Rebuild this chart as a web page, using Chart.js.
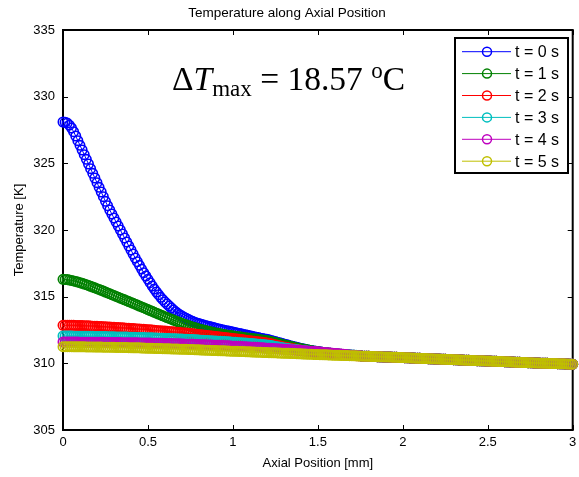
<!DOCTYPE html>
<html>
<head>
<meta charset="utf-8">
<script src="https://cdn.jsdelivr.net/npm/chart.js@4.4.1/dist/chart.umd.min.js"></script>
<style>
  html, body { margin: 0; padding: 0; background: #fff; }
  #wrap { width: 579px; height: 477px; }
</style>
</head>
<body>
<div id="wrap"><canvas id="tempChart" width="579" height="477"></canvas></div>
<script>
/* Temperature along axial position, six time snapshots (MATLAB-style figure) */

// axial position [mm], one row per 0.1 mm
const axialPos = [
  0, 0.0125, 0.025, 0.0375, 0.05, 0.0625, 0.075, 0.0875,
  0.1, 0.1125, 0.125, 0.1375, 0.15, 0.1625, 0.175, 0.1875,
  0.2, 0.2125, 0.225, 0.2375, 0.25, 0.2625, 0.275, 0.2875,
  0.3, 0.3125, 0.325, 0.3375, 0.35, 0.3625, 0.375, 0.3875,
  0.4, 0.4125, 0.425, 0.4375, 0.45, 0.4625, 0.475, 0.4875,
  0.5, 0.5125, 0.525, 0.5375, 0.55, 0.5625, 0.575, 0.5875,
  0.6, 0.6125, 0.625, 0.6375, 0.65, 0.6625, 0.675, 0.6875,
  0.7, 0.7125, 0.725, 0.7375, 0.75, 0.7625, 0.775, 0.7875,
  0.8, 0.8125, 0.825, 0.8375, 0.85, 0.8625, 0.875, 0.8875,
  0.9, 0.9125, 0.925, 0.9375, 0.95, 0.9625, 0.975, 0.9875,
  1, 1.0125, 1.025, 1.0375, 1.05, 1.0625, 1.075, 1.0875,
  1.1, 1.1125, 1.125, 1.1375, 1.15, 1.1625, 1.175, 1.1875,
  1.2, 1.2125, 1.225, 1.2375, 1.25, 1.2625, 1.275, 1.2875,
  1.3, 1.3125, 1.325, 1.3375, 1.35, 1.3625, 1.375, 1.3875,
  1.4, 1.4125, 1.425, 1.4375, 1.45, 1.4625, 1.475, 1.4875,
  1.5, 1.5125, 1.525, 1.5375, 1.55, 1.5625, 1.575, 1.5875,
  1.6, 1.6125, 1.625, 1.6375, 1.65, 1.6625, 1.675, 1.6875,
  1.7, 1.7125, 1.725, 1.7375, 1.75, 1.7625, 1.775, 1.7875,
  1.8, 1.8125, 1.825, 1.8375, 1.85, 1.8625, 1.875, 1.8875,
  1.9, 1.9125, 1.925, 1.9375, 1.95, 1.9625, 1.975, 1.9875,
  2, 2.0125, 2.025, 2.0375, 2.05, 2.0625, 2.075, 2.0875,
  2.1, 2.1125, 2.125, 2.1375, 2.15, 2.1625, 2.175, 2.1875,
  2.2, 2.2125, 2.225, 2.2375, 2.25, 2.2625, 2.275, 2.2875,
  2.3, 2.3125, 2.325, 2.3375, 2.35, 2.3625, 2.375, 2.3875,
  2.4, 2.4125, 2.425, 2.4375, 2.45, 2.4625, 2.475, 2.4875,
  2.5, 2.5125, 2.525, 2.5375, 2.55, 2.5625, 2.575, 2.5875,
  2.6, 2.6125, 2.625, 2.6375, 2.65, 2.6625, 2.675, 2.6875,
  2.7, 2.7125, 2.725, 2.7375, 2.75, 2.7625, 2.775, 2.7875,
  2.8, 2.8125, 2.825, 2.8375, 2.85, 2.8625, 2.875, 2.8875,
  2.9, 2.9125, 2.925, 2.9375, 2.95, 2.9625, 2.975, 2.9875,
  3
];

// temperatures [K] from 0 to 1.75 mm, one array per time snapshot
const temp0s = [
  328.10, 328.08, 328.02, 327.86, 327.65, 327.37, 327.05, 326.70,
  326.35, 326.00, 325.65, 325.30, 324.95, 324.60, 324.25, 323.90,
  323.55, 323.20, 322.85, 322.50, 322.15, 321.82, 321.50, 321.20,
  320.90, 320.60, 320.30, 320.00, 319.70, 319.40, 319.10, 318.80,
  318.50, 318.20, 317.90, 317.62, 317.35, 317.07, 316.80, 316.55,
  316.30, 316.05, 315.80, 315.57, 315.35, 315.15, 314.95, 314.77,
  314.60, 314.45, 314.30, 314.15, 314.00, 313.87, 313.75, 313.65,
  313.55, 313.46, 313.38, 313.30, 313.22, 313.15, 313.09, 313.03,
  312.98, 312.93, 312.89, 312.84, 312.80, 312.76, 312.72, 312.68,
  312.64, 312.60, 312.56, 312.52, 312.49, 312.45, 312.42, 312.38,
  312.35, 312.31, 312.28, 312.24, 312.21, 312.17, 312.14, 312.10,
  312.07, 312.03, 312.00, 311.96, 311.93, 311.89, 311.86, 311.83,
  311.80, 311.76, 311.72, 311.67, 311.63, 311.59, 311.54, 311.50,
  311.45, 311.41, 311.37, 311.32, 311.28, 311.24, 311.20, 311.16,
  311.12, 311.09, 311.05, 311.02, 310.99, 310.96, 310.93, 310.91,
  310.88, 310.86, 310.84, 310.81, 310.79, 310.77, 310.75, 310.74,
  310.72, 310.70, 310.69, 310.67, 310.66, 310.65, 310.63, 310.62,
  310.61, 310.60, 310.59, 310.58, 310.57
];
const temp1s = [
  316.30, 316.29, 316.28, 316.25, 316.22, 316.18, 316.14, 316.10,
  316.05, 316.00, 315.95, 315.90, 315.84, 315.78, 315.72, 315.66,
  315.60, 315.54, 315.48, 315.42, 315.35, 315.28, 315.22, 315.15,
  315.09, 315.02, 314.96, 314.89, 314.83, 314.76, 314.70, 314.63,
  314.57, 314.50, 314.44, 314.37, 314.30, 314.23, 314.17, 314.10,
  314.03, 313.96, 313.90, 313.83, 313.76, 313.70, 313.63, 313.56,
  313.50, 313.43, 313.37, 313.31, 313.25, 313.18, 313.12, 313.06,
  313.00, 312.94, 312.89, 312.83, 312.78, 312.73, 312.68, 312.63,
  312.58, 312.54, 312.50, 312.46, 312.42, 312.38, 312.35, 312.31,
  312.28, 312.25, 312.22, 312.19, 312.16, 312.13, 312.11, 312.08,
  312.06, 312.03, 312.01, 311.99, 311.97, 311.94, 311.92, 311.90,
  311.88, 311.86, 311.84, 311.82, 311.80, 311.77, 311.75, 311.73,
  311.71, 311.67, 311.64, 311.60, 311.56, 311.52, 311.48, 311.44,
  311.40, 311.36, 311.33, 311.29, 311.25, 311.21, 311.17, 311.14,
  311.10, 311.07, 311.04, 311.01, 310.98, 310.95, 310.92, 310.90,
  310.87, 310.85, 310.83, 310.81, 310.79, 310.77, 310.75, 310.74,
  310.72, 310.71, 310.69, 310.68, 310.66, 310.65, 310.64, 310.62,
  310.61, 310.60, 310.59, 310.59, 310.58
];
const temp2s = [
  312.85, 312.85, 312.85, 312.85, 312.85, 312.85, 312.84, 312.84,
  312.83, 312.83, 312.82, 312.82, 312.81, 312.80, 312.79, 312.79,
  312.78, 312.77, 312.76, 312.75, 312.74, 312.73, 312.72, 312.71,
  312.70, 312.69, 312.68, 312.67, 312.66, 312.65, 312.64, 312.63,
  312.62, 312.61, 312.60, 312.58, 312.57, 312.56, 312.55, 312.53,
  312.52, 312.51, 312.50, 312.48, 312.47, 312.45, 312.44, 312.43,
  312.42, 312.40, 312.39, 312.37, 312.36, 312.34, 312.33, 312.31,
  312.30, 312.28, 312.27, 312.25, 312.24, 312.22, 312.20, 312.18,
  312.17, 312.15, 312.13, 312.11, 312.09, 312.07, 312.05, 312.03,
  312.02, 312.00, 311.98, 311.96, 311.94, 311.92, 311.90, 311.88,
  311.86, 311.84, 311.82, 311.80, 311.78, 311.76, 311.74, 311.72,
  311.70, 311.68, 311.66, 311.64, 311.62, 311.60, 311.58, 311.56,
  311.53, 311.50, 311.47, 311.43, 311.39, 311.35, 311.31, 311.27,
  311.23, 311.20, 311.16, 311.13, 311.10, 311.07, 311.04, 311.01,
  310.98, 310.95, 310.93, 310.90, 310.88, 310.86, 310.84, 310.82,
  310.80, 310.78, 310.76, 310.74, 310.72, 310.71, 310.70, 310.68,
  310.67, 310.66, 310.65, 310.64, 310.63, 310.62, 310.61, 310.60,
  310.59, 310.58, 310.57, 310.57, 310.56
];
const temp3s = [
  312.05, 312.05, 312.05, 312.05, 312.05, 312.04, 312.04, 312.04,
  312.04, 312.04, 312.04, 312.03, 312.03, 312.03, 312.03, 312.02,
  312.02, 312.02, 312.02, 312.01, 312.01, 312.00, 312.00, 311.99,
  311.99, 311.98, 311.98, 311.98, 311.98, 311.97, 311.97, 311.96,
  311.96, 311.95, 311.95, 311.94, 311.94, 311.93, 311.93, 311.92,
  311.92, 311.91, 311.91, 311.90, 311.90, 311.89, 311.89, 311.88,
  311.87, 311.86, 311.86, 311.85, 311.85, 311.84, 311.83, 311.82,
  311.82, 311.81, 311.80, 311.79, 311.79, 311.78, 311.77, 311.76,
  311.75, 311.74, 311.73, 311.72, 311.71, 311.70, 311.69, 311.68,
  311.67, 311.66, 311.65, 311.64, 311.63, 311.62, 311.61, 311.60,
  311.59, 311.58, 311.57, 311.55, 311.54, 311.53, 311.52, 311.50,
  311.49, 311.48, 311.47, 311.45, 311.44, 311.43, 311.42, 311.40,
  311.38, 311.35, 311.33, 311.30, 311.27, 311.24, 311.21, 311.18,
  311.15, 311.13, 311.11, 311.08, 311.06, 311.04, 311.02, 311.00,
  310.98, 310.96, 310.94, 310.92, 310.90, 310.88, 310.87, 310.85,
  310.84, 310.82, 310.81, 310.79, 310.78, 310.76, 310.75, 310.73,
  310.72, 310.71, 310.70, 310.68, 310.67, 310.66, 310.65, 310.63,
  310.62, 310.61, 310.60, 310.58, 310.57
];
const temp4s = [
  311.60, 311.60, 311.60, 311.60, 311.60, 311.60, 311.60, 311.60,
  311.59, 311.59, 311.59, 311.59, 311.59, 311.59, 311.58, 311.58,
  311.58, 311.58, 311.58, 311.58, 311.57, 311.57, 311.57, 311.57,
  311.56, 311.56, 311.56, 311.56, 311.55, 311.55, 311.55, 311.55,
  311.54, 311.54, 311.54, 311.54, 311.53, 311.53, 311.53, 311.53,
  311.52, 311.52, 311.51, 311.51, 311.51, 311.51, 311.50, 311.50,
  311.49, 311.49, 311.48, 311.48, 311.47, 311.47, 311.46, 311.46,
  311.45, 311.45, 311.44, 311.44, 311.43, 311.43, 311.42, 311.42,
  311.41, 311.40, 311.39, 311.39, 311.38, 311.38, 311.37, 311.36,
  311.35, 311.35, 311.34, 311.33, 311.32, 311.32, 311.31, 311.30,
  311.29, 311.28, 311.27, 311.27, 311.26, 311.25, 311.24, 311.23,
  311.22, 311.21, 311.20, 311.19, 311.18, 311.17, 311.16, 311.15,
  311.14, 311.13, 311.12, 311.11, 311.10, 311.09, 311.08, 311.07,
  311.06, 311.05, 311.03, 311.02, 311.01, 311.00, 310.99, 310.98,
  310.96, 310.95, 310.94, 310.93, 310.91, 310.90, 310.89, 310.88,
  310.86, 310.85, 310.83, 310.82, 310.80, 310.79, 310.77, 310.76,
  310.74, 310.73, 310.71, 310.70, 310.68, 310.67, 310.65, 310.63,
  310.61, 310.60, 310.58, 310.57, 310.56
];
const temp5s = [
  311.25, 311.25, 311.25, 311.25, 311.25, 311.24, 311.24, 311.24,
  311.24, 311.24, 311.24, 311.23, 311.23, 311.23, 311.23, 311.22,
  311.22, 311.22, 311.22, 311.21, 311.21, 311.21, 311.21, 311.20,
  311.20, 311.19, 311.19, 311.19, 311.19, 311.18, 311.18, 311.17,
  311.17, 311.16, 311.16, 311.16, 311.16, 311.15, 311.15, 311.14,
  311.14, 311.13, 311.13, 311.12, 311.12, 311.11, 311.11, 311.10,
  311.10, 311.09, 311.09, 311.08, 311.08, 311.07, 311.07, 311.06,
  311.06, 311.05, 311.05, 311.04, 311.04, 311.03, 311.02, 311.01,
  311.01, 311.00, 311.00, 310.99, 310.99, 310.98, 310.97, 310.96,
  310.96, 310.95, 310.95, 310.94, 310.94, 310.93, 310.92, 310.91,
  310.91, 310.90, 310.90, 310.89, 310.89, 310.88, 310.87, 310.86,
  310.86, 310.85, 310.85, 310.84, 310.84, 310.83, 310.82, 310.81,
  310.81, 310.80, 310.80, 310.79, 310.79, 310.78, 310.77, 310.76,
  310.76, 310.75, 310.75, 310.74, 310.74, 310.73, 310.72, 310.71,
  310.71, 310.70, 310.70, 310.69, 310.69, 310.68, 310.67, 310.66,
  310.66, 310.65, 310.65, 310.64, 310.64, 310.63, 310.62, 310.61,
  310.61, 310.60, 310.60, 310.59, 310.59, 310.58, 310.58, 310.57,
  310.57, 310.56, 310.56, 310.55, 310.55
];
// past 1.75 mm every snapshot sits on the same curve
const tempTail = [
                          310.54, 310.54, 310.53,
  310.53, 310.52, 310.51, 310.51, 310.50, 310.49, 310.49, 310.48,
  310.48, 310.47, 310.47, 310.46, 310.45, 310.45, 310.44, 310.43,
  310.43, 310.42, 310.42, 310.41, 310.40, 310.40, 310.39, 310.38,
  310.38, 310.37, 310.36, 310.36, 310.35, 310.34, 310.34, 310.33,
  310.33, 310.32, 310.31, 310.30, 310.30, 310.29, 310.29, 310.28,
  310.27, 310.27, 310.26, 310.25, 310.25, 310.24, 310.24, 310.23,
  310.22, 310.22, 310.21, 310.20, 310.20, 310.19, 310.19, 310.18,
  310.17, 310.17, 310.16, 310.15, 310.15, 310.14, 310.13, 310.13,
  310.12, 310.11, 310.11, 310.10, 310.10, 310.09, 310.08, 310.08,
  310.07, 310.06, 310.06, 310.05, 310.05, 310.04, 310.03, 310.02,
  310.02, 310.01, 310.01, 310.00, 310.00, 309.99, 309.99, 309.98,
  309.98, 309.97, 309.97, 309.96, 309.96, 309.95, 309.95, 309.94,
  309.94
];

const timeLabels = ['t = 0 s', 't = 1 s', 't = 2 s', 't = 3 s', 't = 4 s', 't = 5 s'];
const seriesHeads = [temp0s, temp1s, temp2s, temp3s, temp4s, temp5s];
const xTicks = [0, 0.5, 1, 1.5, 2, 2.5, 3];
const yTicks = [305, 310, 315, 320, 325, 330, 335];

/* MATLAB default line colours */
const lineColors = ['#0000ff', '#008000', '#ff0000', '#00bfbf', '#bf00bf', '#bfbf00'];

const SANS = "'Liberation Sans', Arial, Helvetica, sans-serif";
const SERIF = "'Liberation Serif', 'Times New Roman', serif";

const datasets = seriesHeads.map((head, i) => ({
  label: timeLabels[i],
  data: head.concat(tempTail),
  borderColor: lineColors[i],
  borderWidth: 1,
  pointStyle: 'circle',
  pointRadius: 4.7,
  pointBorderWidth: 1.6,
  pointBorderColor: lineColors[i],
  pointBackgroundColor: 'rgba(0,0,0,0)',
  tension: 0,
  clip: false,
  order: seriesHeads.length - i   // later snapshot on top, like MATLAB
}));

/* box, inward ticks, title, ΔT annotation and legend */
const matlabAxes = {
  id: 'matlabAxes',
  beforeDatasetsDraw(chart) {
    const { ctx, chartArea: a, scales: { x, y } } = chart;
    ctx.save();
    ctx.strokeStyle = '#000';
    ctx.lineWidth = 1;
    const tl = 5;
    ctx.beginPath();
    xTicks.forEach(v => {
      const px = Math.round(x.getPixelForValue(v)) + 0.5;
      ctx.moveTo(px, a.bottom); ctx.lineTo(px, a.bottom - tl);
      ctx.moveTo(px, a.top);    ctx.lineTo(px, a.top + tl);
    });
    yTicks.forEach(v => {
      const py = Math.round(y.getPixelForValue(v)) + 0.5;
      ctx.moveTo(a.left, py);  ctx.lineTo(a.left + tl, py);
      ctx.moveTo(a.right, py); ctx.lineTo(a.right - tl, py);
    });
    ctx.stroke();
    ctx.lineWidth = 2;
    ctx.strokeRect(a.left, a.top, a.right - a.left, a.bottom - a.top);
    ctx.restore();
  },
  afterDraw(chart) {
    const { ctx } = chart;
    ctx.save();
    ctx.fillStyle = '#000';

    // title
    ctx.font = '13.5px ' + SANS;
    ctx.textAlign = 'center';
    ctx.textBaseline = 'alphabetic';
    ctx.fillText('Temperature along Axial Position', 287, 17);

    // ΔT_max = 18.57 °C
    ctx.textAlign = 'left';
    let cx = 172;
    const base = 90;
    const part = (txt, font, dy) => {
      ctx.font = font;
      ctx.fillText(txt, cx, base + dy);
      cx += ctx.measureText(txt).width;
    };
    part('\u0394', '33.5px ' + SERIF, 0);
    part('T', 'italic 33.5px ' + SERIF, 0);
    part('max', '23px ' + SERIF, 6);
    part(' = 18.57 ', '33.5px ' + SERIF, 0);
    part('o', '23px ' + SERIF, -12);
    part('C', '33.5px ' + SERIF, 0);

    // legend
    const lx = 455, ly = 38, lw = 113, lh = 135;
    ctx.fillStyle = '#fff';
    ctx.fillRect(lx, ly, lw, lh);
    ctx.strokeStyle = '#000';
    ctx.lineWidth = 2;
    ctx.strokeRect(lx, ly, lw, lh);
    ctx.font = '16px ' + SANS;
    ctx.textBaseline = 'middle';
    timeLabels.forEach((lab, i) => {
      const ey = 51.7 + i * 21.9;
      ctx.strokeStyle = lineColors[i];
      ctx.lineWidth = 1;
      ctx.beginPath();
      ctx.moveTo(462, ey); ctx.lineTo(511, ey);
      ctx.stroke();
      ctx.lineWidth = 1.5;
      ctx.beginPath();
      ctx.arc(487, ey, 4.5, 0, Math.PI * 2);
      ctx.stroke();
      ctx.fillStyle = '#000';
      ctx.fillText(lab, 515, ey + 1);
    });
    ctx.restore();
  }
};

new Chart(document.getElementById('tempChart'), {
  type: 'line',
  data: { labels: axialPos, datasets: datasets },
  options: {
    responsive: false,
    animation: false,
    devicePixelRatio: 1,
    layout: { padding: { top: 30, right: 6, left: 0, bottom: 0 } },
    plugins: {
      legend: { display: false },
      tooltip: { enabled: false },
      title: { display: false }
    },
    scales: {
      x: {
        type: 'linear',
        min: 0, max: 3,
        afterBuildTicks: (s) => { s.ticks = xTicks.map(v => ({ value: v })); },
        afterFit: (s) => { s.height = 47; s.paddingLeft = 0; s.paddingRight = 0; },
        grid: { display: false, drawTicks: false },
        border: { display: false },
        ticks: {
          color: '#000', font: { family: SANS, size: 13 }, padding: 5, maxRotation: 0,
          callback: (v) => String(v)
        },
        title: {
          display: true, text: 'Axial Position [mm]', color: '#000',
          font: { family: SANS, size: 13 }, padding: { top: 0, bottom: 6 }
        }
      },
      y: {
        type: 'linear',
        min: 305, max: 335,
        afterBuildTicks: (s) => { s.ticks = yTicks.map(v => ({ value: v })); },
        afterFit: (s) => { s.width = 63; s.paddingTop = 0; s.paddingBottom = 0; },
        grid: { display: false, drawTicks: false },
        border: { display: false },
        ticks: { color: '#000', font: { family: SANS, size: 13 }, padding: 8, callback: (v) => String(v) },
        title: {
          display: true, text: 'Temperature [K]', color: '#000',
          font: { family: SANS, size: 13 }, padding: { top: 12, bottom: 0 }
        }
      }
    }
  },
  plugins: [matlabAxes]
});
</script>
</body>
</html>
